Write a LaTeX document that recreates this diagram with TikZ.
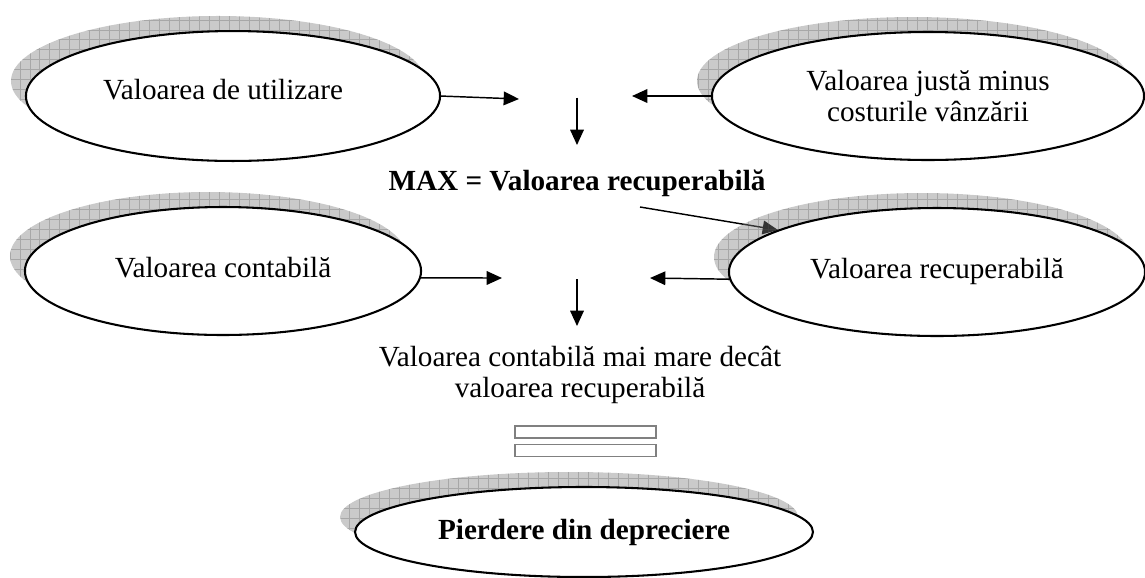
\documentclass[tikz,border=0pt]{standalone}
\usepackage{fontspec}
\setmainfont{Liberation Serif}
\usetikzlibrary{shapes.geometric,arrows.meta,calc}
\pgfdeclarelayer{bg}
\pgfsetlayers{bg,main}
\newcommand\fs{\fontsize{12}{13}\selectfont}
\newcommand\ovalshadow[3]{%
  \fill[black!50, fill opacity=0.42] ($(#1.center)+(-15,-15)$) ellipse [x radius=#2, y radius=#3];
  \begin{scope}
    \clip ($(#1.center)+(-15,-15)$) ellipse [x radius=#2, y radius=#3];
    \draw[black!65, draw opacity=0.3, line width=0.35pt, step=4.1pt]
      ($(#1.center)+(-260,-90)$) grid ($(#1.center)+(250,80)$);
  \end{scope}}
\begin{document}
\begin{tikzpicture}[x=0.411pt, y=-0.411pt,
  every node/.style={font=\fs},
  oval/.style 2 args={ellipse, draw=black, line width=0.85pt, fill=white,
    inner sep=0pt, outer sep=0pt, minimum width=#1, minimum height=#2},
  arr/.style={line width=0.6pt, -{Triangle[length=6.3pt, width=5.6pt]}},
  eqbar/.style={draw=black!50, line width=0.7pt, fill=white,
    minimum width=57.9pt, minimum height=4.9pt, inner sep=0pt, outer sep=0pt},
  up6/.style={text height=8.2pt, text depth=5pt},
  up4/.style={text height=8.2pt, text depth=3.2pt}]
\useasboundingbox (0,0) rectangle (1145,577);

% ovals
\node[oval={170.2pt}{53.4pt}, up6] (util) at (233,96) {Valoarea de utilizare\kern8.2pt};
\node[oval={177.6pt}{52.6pt}, align=center] (justa) at (928,96) {Valoarea justă minus\\costurile vânzării};
\node[oval={162.8pt}{52.6pt}, up4] (cont) at (223,271) {Valoarea contabilă};
\node[oval={171.0pt}{52.6pt}, up4] (recup) at (937,272) {Valoarea recuperabilă};
\node[oval={188.2pt}{37.0pt}] (pierd) at (584,532) {\bfseries Pierdere din depreciere};

% texts
\node[anchor=base, inner sep=0pt, font=\fs\bfseries] (maxv) at (577,190) {MAX = Valoarea recuperabilă};
\node[align=center, inner sep=0pt] (mare) at (580,375) {Valoarea contabilă mai mare decât\\valoarea recuperabilă};

% equal sign
\node[eqbar] (eqa) at (585.5,432) {};
\node[eqbar] (eqb) at (585.5,450.5) {};

% free arrow ends
\coordinate (t1) at (519,99);
\coordinate (t2) at (632,96);
\coordinate (d1s) at (577,97.5);
\coordinate (d1e) at (577,145);
\coordinate (t3) at (502,278);
\coordinate (t4) at (650,278);
\coordinate (d2s) at (577,279);
\coordinate (d2e) at (577,326);
\coordinate (ms) at (640,207);
\coordinate (me) at (778,230);

% arrows
\draw[arr] (util.east) -- (t1);
\draw[arr] (justa.west) -- (t2);
\draw[arr] (d1s) -- (d1e);
\draw[arr] (cont.-2) -- (t3);
\draw[arr] (recup.182) -- (t4);
\draw[arr] (d2s) -- (d2e);

\begin{pgfonlayer}{bg}
  \draw[arr] (ms) -- (me);
  \ovalshadow{util}{85.08pt}{26.72pt}
  \ovalshadow{justa}{88.78pt}{26.30pt}
  \ovalshadow{cont}{81.38pt}{26.30pt}
  \ovalshadow{recup}{85.49pt}{26.30pt}
  \ovalshadow{pierd}{94.12pt}{18.50pt}
\end{pgfonlayer}
\end{tikzpicture}
\end{document}
